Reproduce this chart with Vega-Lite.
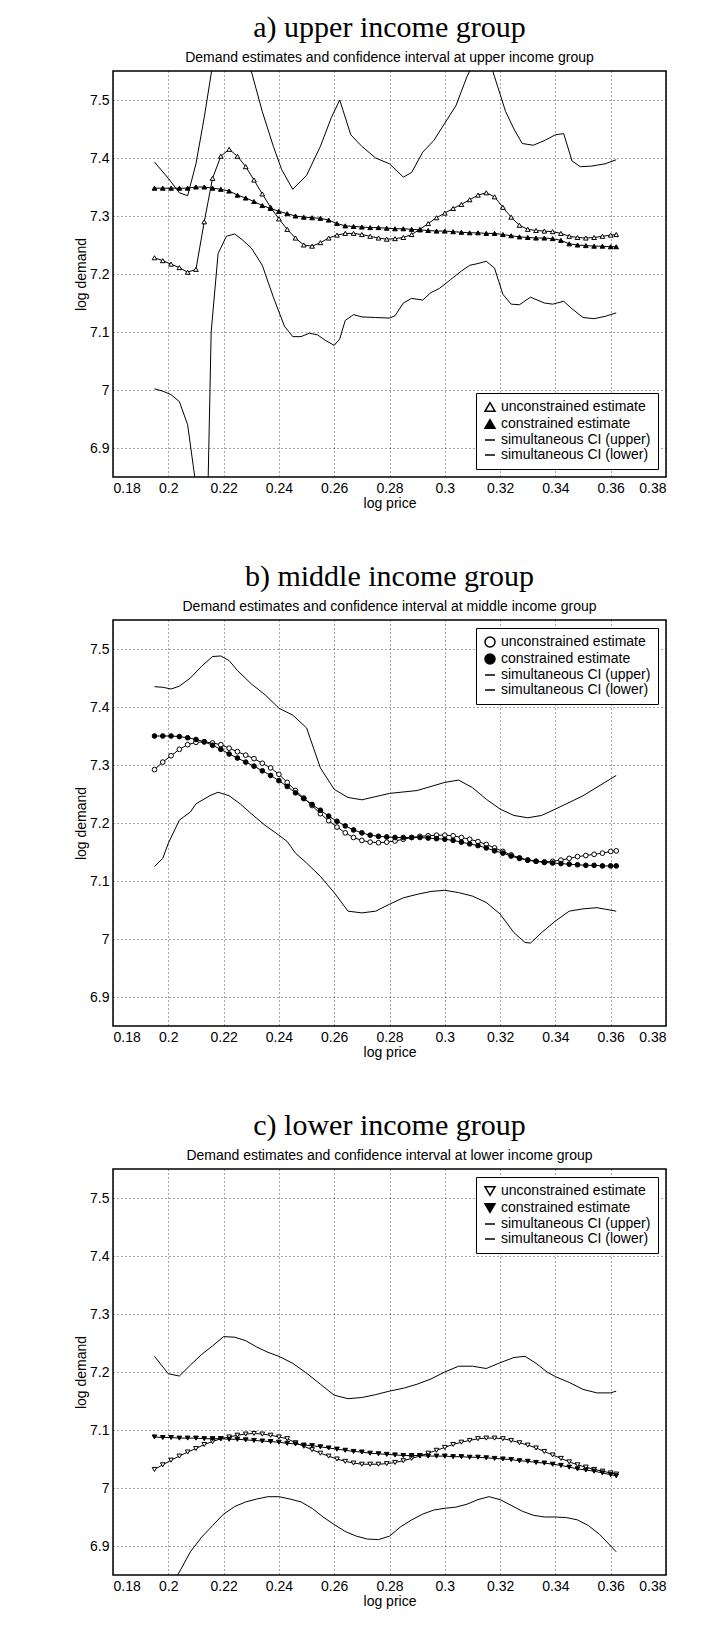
{
  "$schema": "https://vega.github.io/schema/vega-lite/v6.json",
  "background": "white",
  "padding": {"left": 73, "top": 12, "right": 10, "bottom": 0},
  "spacing": 50,
  "config": {
    "view": {"stroke": "black", "strokeWidth": 1.5},
    "title": {"font": "Liberation Serif", "fontSize": 30, "fontWeight": "normal", "color": "black", "subtitleFont": "Liberation Sans", "subtitleFontSize": 14, "subtitleColor": "black", "subtitlePadding": 8, "offset": 6},
    "axis": {"labelFont": "Liberation Sans", "labelFontSize": 14, "labelColor": "black", "titleFont": "Liberation Sans", "titleFontSize": 14, "titleFontWeight": "normal", "titleColor": "black", "grid": true, "gridDash": [1, 3], "gridColor": "black", "gridOpacity": 0.7, "domain": false, "ticks": false, "labelPadding": 4, "titlePadding": 1}
  },
  "resolve": {"scale": {"shape": "independent", "fill": "independent"}, "legend": {"shape": "independent", "fill": "independent"}},
  "datasets": {
    "a": [
      {"s":"U","x":0.195,"y":7.228},{"s":"U","x":0.198,"y":7.223},{"s":"U","x":0.201,"y":7.217},{"s":"U","x":0.204,"y":7.211},{"s":"U","x":0.207,"y":7.203},{"s":"U","x":0.210,"y":7.208},{"s":"U","x":0.213,"y":7.29},{"s":"U","x":0.216,"y":7.365},{"s":"U","x":0.219,"y":7.403},{"s":"U","x":0.222,"y":7.415},{"s":"U","x":0.225,"y":7.403},{"s":"U","x":0.228,"y":7.385},{"s":"U","x":0.231,"y":7.362},{"s":"U","x":0.234,"y":7.338},{"s":"U","x":0.237,"y":7.315},{"s":"U","x":0.240,"y":7.295},{"s":"U","x":0.243,"y":7.277},{"s":"U","x":0.246,"y":7.262},{"s":"U","x":0.249,"y":7.25},{"s":"U","x":0.252,"y":7.248},{"s":"U","x":0.255,"y":7.254},{"s":"U","x":0.258,"y":7.262},{"s":"U","x":0.261,"y":7.267},{"s":"U","x":0.264,"y":7.27},{"s":"U","x":0.267,"y":7.27},{"s":"U","x":0.270,"y":7.268},{"s":"U","x":0.273,"y":7.265},{"s":"U","x":0.276,"y":7.262},{"s":"U","x":0.279,"y":7.26},{"s":"U","x":0.282,"y":7.261},{"s":"U","x":0.285,"y":7.263},{"s":"U","x":0.288,"y":7.268},{"s":"U","x":0.291,"y":7.277},{"s":"U","x":0.294,"y":7.287},{"s":"U","x":0.297,"y":7.297},{"s":"U","x":0.300,"y":7.305},{"s":"U","x":0.303,"y":7.313},{"s":"U","x":0.306,"y":7.32},{"s":"U","x":0.309,"y":7.328},{"s":"U","x":0.312,"y":7.336},{"s":"U","x":0.315,"y":7.34},{"s":"U","x":0.318,"y":7.333},{"s":"U","x":0.321,"y":7.315},{"s":"U","x":0.324,"y":7.298},{"s":"U","x":0.327,"y":7.284},{"s":"U","x":0.330,"y":7.277},{"s":"U","x":0.333,"y":7.275},{"s":"U","x":0.336,"y":7.274},{"s":"U","x":0.339,"y":7.273},{"s":"U","x":0.342,"y":7.27},{"s":"U","x":0.345,"y":7.265},{"s":"U","x":0.348,"y":7.263},{"s":"U","x":0.351,"y":7.262},{"s":"U","x":0.354,"y":7.263},{"s":"U","x":0.357,"y":7.265},{"s":"U","x":0.360,"y":7.267},{"s":"U","x":0.362,"y":7.268},
      {"s":"C","x":0.195,"y":7.348},{"s":"C","x":0.198,"y":7.348},{"s":"C","x":0.201,"y":7.348},{"s":"C","x":0.204,"y":7.348},{"s":"C","x":0.207,"y":7.348},{"s":"C","x":0.210,"y":7.35},{"s":"C","x":0.213,"y":7.35},{"s":"C","x":0.216,"y":7.348},{"s":"C","x":0.219,"y":7.346},{"s":"C","x":0.222,"y":7.343},{"s":"C","x":0.225,"y":7.336},{"s":"C","x":0.228,"y":7.331},{"s":"C","x":0.231,"y":7.325},{"s":"C","x":0.234,"y":7.318},{"s":"C","x":0.237,"y":7.313},{"s":"C","x":0.240,"y":7.308},{"s":"C","x":0.243,"y":7.304},{"s":"C","x":0.246,"y":7.3},{"s":"C","x":0.249,"y":7.298},{"s":"C","x":0.252,"y":7.297},{"s":"C","x":0.255,"y":7.296},{"s":"C","x":0.258,"y":7.293},{"s":"C","x":0.261,"y":7.287},{"s":"C","x":0.264,"y":7.283},{"s":"C","x":0.267,"y":7.282},{"s":"C","x":0.270,"y":7.281},{"s":"C","x":0.273,"y":7.28},{"s":"C","x":0.276,"y":7.28},{"s":"C","x":0.279,"y":7.279},{"s":"C","x":0.282,"y":7.278},{"s":"C","x":0.285,"y":7.278},{"s":"C","x":0.288,"y":7.277},{"s":"C","x":0.291,"y":7.276},{"s":"C","x":0.294,"y":7.275},{"s":"C","x":0.297,"y":7.274},{"s":"C","x":0.300,"y":7.274},{"s":"C","x":0.303,"y":7.273},{"s":"C","x":0.306,"y":7.272},{"s":"C","x":0.309,"y":7.271},{"s":"C","x":0.312,"y":7.271},{"s":"C","x":0.315,"y":7.27},{"s":"C","x":0.318,"y":7.27},{"s":"C","x":0.321,"y":7.268},{"s":"C","x":0.324,"y":7.266},{"s":"C","x":0.327,"y":7.264},{"s":"C","x":0.330,"y":7.263},{"s":"C","x":0.333,"y":7.262},{"s":"C","x":0.336,"y":7.262},{"s":"C","x":0.339,"y":7.261},{"s":"C","x":0.342,"y":7.258},{"s":"C","x":0.345,"y":7.252},{"s":"C","x":0.348,"y":7.25},{"s":"C","x":0.351,"y":7.249},{"s":"C","x":0.354,"y":7.248},{"s":"C","x":0.357,"y":7.248},{"s":"C","x":0.360,"y":7.247},{"s":"C","x":0.362,"y":7.247},
      {"s":"H","x":0.195,"y":7.393},{"s":"H","x":0.2,"y":7.365},{"s":"H","x":0.204,"y":7.34},{"s":"H","x":0.207,"y":7.335},{"s":"H","x":0.210,"y":7.39},{"s":"H","x":0.213,"y":7.47},{"s":"H","x":0.216,"y":7.56},{"s":"H","x":0.219,"y":7.65},{"s":"H","x":0.222,"y":7.7},{"s":"H","x":0.226,"y":7.62},{"s":"H","x":0.230,"y":7.55},{"s":"H","x":0.234,"y":7.48},{"s":"H","x":0.238,"y":7.42},{"s":"H","x":0.241,"y":7.38},{"s":"H","x":0.245,"y":7.346},{"s":"H","x":0.250,"y":7.37},{"s":"H","x":0.255,"y":7.42},{"s":"H","x":0.259,"y":7.47},{"s":"H","x":0.262,"y":7.5},{"s":"H","x":0.266,"y":7.44},{"s":"H","x":0.270,"y":7.42},{"s":"H","x":0.275,"y":7.4},{"s":"H","x":0.280,"y":7.39},{"s":"H","x":0.285,"y":7.367},{"s":"H","x":0.288,"y":7.375},{"s":"H","x":0.292,"y":7.41},{"s":"H","x":0.296,"y":7.43},{"s":"H","x":0.300,"y":7.46},{"s":"H","x":0.304,"y":7.49},{"s":"H","x":0.308,"y":7.54},{"s":"H","x":0.312,"y":7.58},{"s":"H","x":0.316,"y":7.57},{"s":"H","x":0.318,"y":7.54},{"s":"H","x":0.322,"y":7.48},{"s":"H","x":0.325,"y":7.45},{"s":"H","x":0.328,"y":7.425},{"s":"H","x":0.332,"y":7.422},{"s":"H","x":0.336,"y":7.43},{"s":"H","x":0.340,"y":7.44},{"s":"H","x":0.343,"y":7.442},{"s":"H","x":0.346,"y":7.395},{"s":"H","x":0.349,"y":7.385},{"s":"H","x":0.353,"y":7.386},{"s":"H","x":0.358,"y":7.39},{"s":"H","x":0.362,"y":7.397},
      {"s":"L","x":0.195,"y":7.002},{"s":"L","x":0.198,"y":6.998},{"s":"L","x":0.201,"y":6.992},{"s":"L","x":0.204,"y":6.98},{"s":"L","x":0.207,"y":6.94},{"s":"L","x":0.209,"y":6.87},{"s":"L","x":0.211,"y":6.8},{"s":"L","x":0.214,"y":6.75},{"s":"L","x":0.2155,"y":7.1},{"s":"L","x":0.218,"y":7.235},{"s":"L","x":0.221,"y":7.265},{"s":"L","x":0.224,"y":7.269},{"s":"L","x":0.227,"y":7.258},{"s":"L","x":0.230,"y":7.245},{"s":"L","x":0.234,"y":7.215},{"s":"L","x":0.238,"y":7.16},{"s":"L","x":0.242,"y":7.11},{"s":"L","x":0.245,"y":7.092},{"s":"L","x":0.248,"y":7.092},{"s":"L","x":0.251,"y":7.098},{"s":"L","x":0.254,"y":7.095},{"s":"L","x":0.257,"y":7.085},{"s":"L","x":0.260,"y":7.077},{"s":"L","x":0.262,"y":7.088},{"s":"L","x":0.264,"y":7.12},{"s":"L","x":0.267,"y":7.13},{"s":"L","x":0.270,"y":7.126},{"s":"L","x":0.275,"y":7.125},{"s":"L","x":0.280,"y":7.124},{"s":"L","x":0.282,"y":7.128},{"s":"L","x":0.285,"y":7.15},{"s":"L","x":0.288,"y":7.158},{"s":"L","x":0.292,"y":7.155},{"s":"L","x":0.295,"y":7.168},{"s":"L","x":0.298,"y":7.175},{"s":"L","x":0.302,"y":7.19},{"s":"L","x":0.306,"y":7.205},{"s":"L","x":0.309,"y":7.215},{"s":"L","x":0.312,"y":7.218},{"s":"L","x":0.315,"y":7.222},{"s":"L","x":0.318,"y":7.21},{"s":"L","x":0.321,"y":7.165},{"s":"L","x":0.324,"y":7.148},{"s":"L","x":0.327,"y":7.147},{"s":"L","x":0.331,"y":7.16},{"s":"L","x":0.336,"y":7.15},{"s":"L","x":0.339,"y":7.148},{"s":"L","x":0.343,"y":7.153},{"s":"L","x":0.346,"y":7.14},{"s":"L","x":0.350,"y":7.125},{"s":"L","x":0.354,"y":7.123},{"s":"L","x":0.358,"y":7.127},{"s":"L","x":0.362,"y":7.133}
    ],
    "b": [
      {"s":"U","x":0.195,"y":7.292},{"s":"U","x":0.198,"y":7.305},{"s":"U","x":0.201,"y":7.316},{"s":"U","x":0.204,"y":7.327},{"s":"U","x":0.207,"y":7.335},{"s":"U","x":0.210,"y":7.339},{"s":"U","x":0.213,"y":7.34},{"s":"U","x":0.216,"y":7.338},{"s":"U","x":0.219,"y":7.335},{"s":"U","x":0.222,"y":7.329},{"s":"U","x":0.225,"y":7.323},{"s":"U","x":0.228,"y":7.317},{"s":"U","x":0.231,"y":7.311},{"s":"U","x":0.234,"y":7.303},{"s":"U","x":0.237,"y":7.295},{"s":"U","x":0.240,"y":7.284},{"s":"U","x":0.243,"y":7.27},{"s":"U","x":0.246,"y":7.256},{"s":"U","x":0.249,"y":7.243},{"s":"U","x":0.252,"y":7.23},{"s":"U","x":0.255,"y":7.216},{"s":"U","x":0.258,"y":7.204},{"s":"U","x":0.261,"y":7.193},{"s":"U","x":0.264,"y":7.183},{"s":"U","x":0.267,"y":7.175},{"s":"U","x":0.270,"y":7.17},{"s":"U","x":0.273,"y":7.167},{"s":"U","x":0.276,"y":7.166},{"s":"U","x":0.279,"y":7.167},{"s":"U","x":0.282,"y":7.169},{"s":"U","x":0.285,"y":7.172},{"s":"U","x":0.288,"y":7.175},{"s":"U","x":0.291,"y":7.177},{"s":"U","x":0.294,"y":7.178},{"s":"U","x":0.297,"y":7.179},{"s":"U","x":0.300,"y":7.179},{"s":"U","x":0.303,"y":7.178},{"s":"U","x":0.306,"y":7.175},{"s":"U","x":0.309,"y":7.172},{"s":"U","x":0.312,"y":7.168},{"s":"U","x":0.315,"y":7.163},{"s":"U","x":0.318,"y":7.157},{"s":"U","x":0.321,"y":7.151},{"s":"U","x":0.324,"y":7.145},{"s":"U","x":0.327,"y":7.14},{"s":"U","x":0.330,"y":7.136},{"s":"U","x":0.333,"y":7.134},{"s":"U","x":0.336,"y":7.133},{"s":"U","x":0.339,"y":7.134},{"s":"U","x":0.342,"y":7.136},{"s":"U","x":0.345,"y":7.139},{"s":"U","x":0.348,"y":7.142},{"s":"U","x":0.351,"y":7.144},{"s":"U","x":0.354,"y":7.146},{"s":"U","x":0.357,"y":7.148},{"s":"U","x":0.360,"y":7.151},{"s":"U","x":0.362,"y":7.152},
      {"s":"C","x":0.195,"y":7.35},{"s":"C","x":0.198,"y":7.35},{"s":"C","x":0.201,"y":7.35},{"s":"C","x":0.204,"y":7.349},{"s":"C","x":0.207,"y":7.347},{"s":"C","x":0.210,"y":7.344},{"s":"C","x":0.213,"y":7.34},{"s":"C","x":0.216,"y":7.334},{"s":"C","x":0.219,"y":7.327},{"s":"C","x":0.222,"y":7.319},{"s":"C","x":0.225,"y":7.312},{"s":"C","x":0.228,"y":7.305},{"s":"C","x":0.231,"y":7.298},{"s":"C","x":0.234,"y":7.29},{"s":"C","x":0.237,"y":7.282},{"s":"C","x":0.240,"y":7.273},{"s":"C","x":0.243,"y":7.263},{"s":"C","x":0.246,"y":7.252},{"s":"C","x":0.249,"y":7.242},{"s":"C","x":0.252,"y":7.232},{"s":"C","x":0.255,"y":7.222},{"s":"C","x":0.258,"y":7.212},{"s":"C","x":0.261,"y":7.203},{"s":"C","x":0.264,"y":7.195},{"s":"C","x":0.267,"y":7.188},{"s":"C","x":0.270,"y":7.183},{"s":"C","x":0.273,"y":7.179},{"s":"C","x":0.276,"y":7.177},{"s":"C","x":0.279,"y":7.176},{"s":"C","x":0.282,"y":7.175},{"s":"C","x":0.285,"y":7.175},{"s":"C","x":0.288,"y":7.175},{"s":"C","x":0.291,"y":7.175},{"s":"C","x":0.294,"y":7.174},{"s":"C","x":0.297,"y":7.173},{"s":"C","x":0.300,"y":7.172},{"s":"C","x":0.303,"y":7.17},{"s":"C","x":0.306,"y":7.167},{"s":"C","x":0.309,"y":7.164},{"s":"C","x":0.312,"y":7.161},{"s":"C","x":0.315,"y":7.157},{"s":"C","x":0.318,"y":7.152},{"s":"C","x":0.321,"y":7.148},{"s":"C","x":0.324,"y":7.143},{"s":"C","x":0.327,"y":7.139},{"s":"C","x":0.330,"y":7.136},{"s":"C","x":0.333,"y":7.134},{"s":"C","x":0.336,"y":7.132},{"s":"C","x":0.339,"y":7.131},{"s":"C","x":0.342,"y":7.13},{"s":"C","x":0.345,"y":7.129},{"s":"C","x":0.348,"y":7.128},{"s":"C","x":0.351,"y":7.127},{"s":"C","x":0.354,"y":7.127},{"s":"C","x":0.357,"y":7.126},{"s":"C","x":0.360,"y":7.126},{"s":"C","x":0.362,"y":7.126},
      {"s":"H","x":0.195,"y":7.435},{"s":"H","x":0.198,"y":7.434},{"s":"H","x":0.201,"y":7.431},{"s":"H","x":0.204,"y":7.436},{"s":"H","x":0.208,"y":7.45},{"s":"H","x":0.212,"y":7.47},{"s":"H","x":0.216,"y":7.487},{"s":"H","x":0.219,"y":7.488},{"s":"H","x":0.222,"y":7.48},{"s":"H","x":0.225,"y":7.463},{"s":"H","x":0.230,"y":7.44},{"s":"H","x":0.235,"y":7.421},{"s":"H","x":0.240,"y":7.398},{"s":"H","x":0.245,"y":7.386},{"s":"H","x":0.250,"y":7.364},{"s":"H","x":0.255,"y":7.295},{"s":"H","x":0.260,"y":7.258},{"s":"H","x":0.265,"y":7.244},{"s":"H","x":0.270,"y":7.24},{"s":"H","x":0.280,"y":7.251},{"s":"H","x":0.290,"y":7.256},{"s":"H","x":0.300,"y":7.27},{"s":"H","x":0.305,"y":7.274},{"s":"H","x":0.310,"y":7.261},{"s":"H","x":0.315,"y":7.241},{"s":"H","x":0.320,"y":7.224},{"s":"H","x":0.325,"y":7.213},{"s":"H","x":0.330,"y":7.209},{"s":"H","x":0.335,"y":7.213},{"s":"H","x":0.340,"y":7.224},{"s":"H","x":0.350,"y":7.247},{"s":"H","x":0.362,"y":7.282},
      {"s":"L","x":0.195,"y":7.125},{"s":"L","x":0.198,"y":7.139},{"s":"L","x":0.200,"y":7.165},{"s":"L","x":0.204,"y":7.205},{"s":"L","x":0.208,"y":7.219},{"s":"L","x":0.210,"y":7.233},{"s":"L","x":0.215,"y":7.247},{"s":"L","x":0.218,"y":7.253},{"s":"L","x":0.222,"y":7.247},{"s":"L","x":0.226,"y":7.233},{"s":"L","x":0.230,"y":7.216},{"s":"L","x":0.235,"y":7.196},{"s":"L","x":0.240,"y":7.179},{"s":"L","x":0.243,"y":7.168},{"s":"L","x":0.246,"y":7.148},{"s":"L","x":0.250,"y":7.131},{"s":"L","x":0.255,"y":7.108},{"s":"L","x":0.260,"y":7.08},{"s":"L","x":0.265,"y":7.048},{"s":"L","x":0.270,"y":7.045},{"s":"L","x":0.275,"y":7.048},{"s":"L","x":0.280,"y":7.06},{"s":"L","x":0.285,"y":7.071},{"s":"L","x":0.290,"y":7.077},{"s":"L","x":0.295,"y":7.082},{"s":"L","x":0.300,"y":7.084},{"s":"L","x":0.305,"y":7.08},{"s":"L","x":0.310,"y":7.074},{"s":"L","x":0.315,"y":7.063},{"s":"L","x":0.320,"y":7.043},{"s":"L","x":0.325,"y":7.011},{"s":"L","x":0.329,"y":6.994},{"s":"L","x":0.331,"y":6.993},{"s":"L","x":0.335,"y":7.011},{"s":"L","x":0.340,"y":7.031},{"s":"L","x":0.345,"y":7.048},{"s":"L","x":0.350,"y":7.052},{"s":"L","x":0.355,"y":7.054},{"s":"L","x":0.362,"y":7.048}
    ],
    "c": [
      {"s":"U","x":0.195,"y":7.032},{"s":"U","x":0.198,"y":7.04},{"s":"U","x":0.201,"y":7.048},{"s":"U","x":0.204,"y":7.055},{"s":"U","x":0.207,"y":7.062},{"s":"U","x":0.210,"y":7.068},{"s":"U","x":0.213,"y":7.075},{"s":"U","x":0.216,"y":7.08},{"s":"U","x":0.219,"y":7.085},{"s":"U","x":0.222,"y":7.088},{"s":"U","x":0.225,"y":7.091},{"s":"U","x":0.228,"y":7.093},{"s":"U","x":0.231,"y":7.094},{"s":"U","x":0.234,"y":7.093},{"s":"U","x":0.237,"y":7.091},{"s":"U","x":0.240,"y":7.088},{"s":"U","x":0.243,"y":7.085},{"s":"U","x":0.246,"y":7.078},{"s":"U","x":0.249,"y":7.072},{"s":"U","x":0.252,"y":7.066},{"s":"U","x":0.255,"y":7.06},{"s":"U","x":0.258,"y":7.055},{"s":"U","x":0.261,"y":7.05},{"s":"U","x":0.264,"y":7.046},{"s":"U","x":0.267,"y":7.043},{"s":"U","x":0.270,"y":7.041},{"s":"U","x":0.273,"y":7.041},{"s":"U","x":0.276,"y":7.041},{"s":"U","x":0.279,"y":7.042},{"s":"U","x":0.282,"y":7.044},{"s":"U","x":0.285,"y":7.047},{"s":"U","x":0.288,"y":7.051},{"s":"U","x":0.291,"y":7.055},{"s":"U","x":0.294,"y":7.06},{"s":"U","x":0.297,"y":7.065},{"s":"U","x":0.300,"y":7.07},{"s":"U","x":0.303,"y":7.075},{"s":"U","x":0.306,"y":7.079},{"s":"U","x":0.309,"y":7.082},{"s":"U","x":0.312,"y":7.085},{"s":"U","x":0.315,"y":7.086},{"s":"U","x":0.318,"y":7.086},{"s":"U","x":0.321,"y":7.085},{"s":"U","x":0.324,"y":7.082},{"s":"U","x":0.327,"y":7.078},{"s":"U","x":0.330,"y":7.074},{"s":"U","x":0.333,"y":7.069},{"s":"U","x":0.336,"y":7.063},{"s":"U","x":0.339,"y":7.057},{"s":"U","x":0.342,"y":7.051},{"s":"U","x":0.345,"y":7.045},{"s":"U","x":0.348,"y":7.04},{"s":"U","x":0.351,"y":7.036},{"s":"U","x":0.354,"y":7.032},{"s":"U","x":0.357,"y":7.029},{"s":"U","x":0.360,"y":7.026},{"s":"U","x":0.362,"y":7.024},
      {"s":"C","x":0.195,"y":7.088},{"s":"C","x":0.198,"y":7.087},{"s":"C","x":0.201,"y":7.087},{"s":"C","x":0.204,"y":7.086},{"s":"C","x":0.207,"y":7.086},{"s":"C","x":0.210,"y":7.086},{"s":"C","x":0.213,"y":7.085},{"s":"C","x":0.216,"y":7.085},{"s":"C","x":0.219,"y":7.085},{"s":"C","x":0.222,"y":7.084},{"s":"C","x":0.225,"y":7.084},{"s":"C","x":0.228,"y":7.083},{"s":"C","x":0.231,"y":7.082},{"s":"C","x":0.234,"y":7.081},{"s":"C","x":0.237,"y":7.08},{"s":"C","x":0.240,"y":7.079},{"s":"C","x":0.243,"y":7.077},{"s":"C","x":0.246,"y":7.076},{"s":"C","x":0.249,"y":7.074},{"s":"C","x":0.252,"y":7.073},{"s":"C","x":0.255,"y":7.071},{"s":"C","x":0.258,"y":7.069},{"s":"C","x":0.261,"y":7.067},{"s":"C","x":0.264,"y":7.065},{"s":"C","x":0.267,"y":7.063},{"s":"C","x":0.270,"y":7.062},{"s":"C","x":0.273,"y":7.06},{"s":"C","x":0.276,"y":7.059},{"s":"C","x":0.279,"y":7.058},{"s":"C","x":0.282,"y":7.057},{"s":"C","x":0.285,"y":7.056},{"s":"C","x":0.288,"y":7.056},{"s":"C","x":0.291,"y":7.056},{"s":"C","x":0.294,"y":7.055},{"s":"C","x":0.297,"y":7.055},{"s":"C","x":0.300,"y":7.055},{"s":"C","x":0.303,"y":7.054},{"s":"C","x":0.306,"y":7.054},{"s":"C","x":0.309,"y":7.053},{"s":"C","x":0.312,"y":7.053},{"s":"C","x":0.315,"y":7.052},{"s":"C","x":0.318,"y":7.051},{"s":"C","x":0.321,"y":7.05},{"s":"C","x":0.324,"y":7.049},{"s":"C","x":0.327,"y":7.047},{"s":"C","x":0.330,"y":7.046},{"s":"C","x":0.333,"y":7.044},{"s":"C","x":0.336,"y":7.043},{"s":"C","x":0.339,"y":7.041},{"s":"C","x":0.342,"y":7.039},{"s":"C","x":0.345,"y":7.036},{"s":"C","x":0.348,"y":7.033},{"s":"C","x":0.351,"y":7.031},{"s":"C","x":0.354,"y":7.029},{"s":"C","x":0.357,"y":7.026},{"s":"C","x":0.360,"y":7.023},{"s":"C","x":0.362,"y":7.021},
      {"s":"H","x":0.195,"y":7.227},{"s":"H","x":0.200,"y":7.197},{"s":"H","x":0.204,"y":7.193},{"s":"H","x":0.208,"y":7.212},{"s":"H","x":0.212,"y":7.23},{"s":"H","x":0.216,"y":7.245},{"s":"H","x":0.220,"y":7.261},{"s":"H","x":0.224,"y":7.26},{"s":"H","x":0.228,"y":7.254},{"s":"H","x":0.232,"y":7.243},{"s":"H","x":0.236,"y":7.234},{"s":"H","x":0.240,"y":7.227},{"s":"H","x":0.245,"y":7.215},{"s":"H","x":0.250,"y":7.198},{"s":"H","x":0.255,"y":7.179},{"s":"H","x":0.260,"y":7.16},{"s":"H","x":0.265,"y":7.154},{"s":"H","x":0.270,"y":7.156},{"s":"H","x":0.275,"y":7.161},{"s":"H","x":0.280,"y":7.167},{"s":"H","x":0.285,"y":7.172},{"s":"H","x":0.290,"y":7.179},{"s":"H","x":0.295,"y":7.188},{"s":"H","x":0.300,"y":7.2},{"s":"H","x":0.305,"y":7.21},{"s":"H","x":0.310,"y":7.21},{"s":"H","x":0.315,"y":7.206},{"s":"H","x":0.320,"y":7.216},{"s":"H","x":0.325,"y":7.225},{"s":"H","x":0.329,"y":7.227},{"s":"H","x":0.333,"y":7.215},{"s":"H","x":0.337,"y":7.2},{"s":"H","x":0.340,"y":7.192},{"s":"H","x":0.345,"y":7.182},{"s":"H","x":0.350,"y":7.17},{"s":"H","x":0.355,"y":7.164},{"s":"H","x":0.360,"y":7.164},{"s":"H","x":0.362,"y":7.167},
      {"s":"L","x":0.195,"y":6.8},{"s":"L","x":0.200,"y":6.83},{"s":"L","x":0.204,"y":6.855},{"s":"L","x":0.208,"y":6.89},{"s":"L","x":0.212,"y":6.915},{"s":"L","x":0.216,"y":6.935},{"s":"L","x":0.220,"y":6.955},{"s":"L","x":0.224,"y":6.968},{"s":"L","x":0.228,"y":6.976},{"s":"L","x":0.232,"y":6.981},{"s":"L","x":0.236,"y":6.985},{"s":"L","x":0.240,"y":6.985},{"s":"L","x":0.244,"y":6.981},{"s":"L","x":0.248,"y":6.976},{"s":"L","x":0.252,"y":6.965},{"s":"L","x":0.256,"y":6.95},{"s":"L","x":0.260,"y":6.937},{"s":"L","x":0.264,"y":6.925},{"s":"L","x":0.268,"y":6.917},{"s":"L","x":0.272,"y":6.912},{"s":"L","x":0.276,"y":6.911},{"s":"L","x":0.280,"y":6.917},{"s":"L","x":0.284,"y":6.933},{"s":"L","x":0.288,"y":6.945},{"s":"L","x":0.292,"y":6.955},{"s":"L","x":0.296,"y":6.962},{"s":"L","x":0.300,"y":6.965},{"s":"L","x":0.304,"y":6.967},{"s":"L","x":0.308,"y":6.972},{"s":"L","x":0.312,"y":6.98},{"s":"L","x":0.316,"y":6.985},{"s":"L","x":0.320,"y":6.98},{"s":"L","x":0.324,"y":6.97},{"s":"L","x":0.328,"y":6.96},{"s":"L","x":0.332,"y":6.953},{"s":"L","x":0.336,"y":6.95},{"s":"L","x":0.340,"y":6.95},{"s":"L","x":0.344,"y":6.949},{"s":"L","x":0.348,"y":6.945},{"s":"L","x":0.352,"y":6.935},{"s":"L","x":0.356,"y":6.92},{"s":"L","x":0.360,"y":6.9},{"s":"L","x":0.362,"y":6.89}
    ]
  },
  "vconcat": [
    {
      "title": {"text": "a) upper income group", "subtitle": "Demand estimates and confidence interval at upper income group"},
      "width": 553, "height": 406,
      "data": {"name": "a"},
      "encoding": {
        "x": {"field": "x", "type": "quantitative", "scale": {"domain": [0.18, 0.38], "nice": false, "zero": false}, "axis": {"values": [0.18,0.2,0.22,0.24,0.26,0.28,0.3,0.32,0.34,0.36,0.38], "format": "~g", "title": "log price"}},
        "y": {"field": "y", "type": "quantitative", "scale": {"domain": [6.85, 7.55], "nice": false, "zero": false}, "axis": {"values": [6.9,7,7.1,7.2,7.3,7.4,7.5], "format": "~g", "title": "log demand"}}
      },
      "layer": [
        {"mark": {"type": "line", "color": "black", "strokeWidth": 1, "clip": true}, "encoding": {"detail": {"field": "s"}}},
        {"transform": [{"filter": "datum.s == 'U' || datum.s == 'C'"}],
         "mark": {"type": "point", "size": 22, "stroke": "black", "strokeWidth": 1, "opacity": 1, "clip": true},
         "encoding": {
           "shape": {"field": "s", "type": "nominal", "scale": {"domain": ["U","C","H","L"], "range": ["triangle-up","triangle-up","stroke","stroke"]},
             "legend": {"orient": "bottom-right", "title": null, "strokeColor": "black", "fillColor": "white", "padding": 7, "offset": 8, "labelFont": "Liberation Sans", "labelFontSize": 14, "labelColor": "black", "symbolSize": 100, "rowPadding": 1, "encode": {"symbols": {"update": {"stroke": {"value": "black"}, "strokeWidth": {"value": 1}, "opacity": {"value": 1}}}}, "labelExpr": "datum.value == 'U' ? 'unconstrained estimate' : datum.value == 'C' ? 'constrained estimate' : datum.value == 'H' ? 'simultaneous CI (upper)' : 'simultaneous CI (lower)'"}},
           "fill": {"field": "s", "type": "nominal", "scale": {"domain": ["U","C","H","L"], "range": ["white","black","black","black"]},
             "legend": {"orient": "bottom-right", "title": null, "strokeColor": "black", "fillColor": "white", "padding": 7, "offset": 8, "labelFont": "Liberation Sans", "labelFontSize": 14, "labelColor": "black", "symbolSize": 100, "rowPadding": 1, "encode": {"symbols": {"update": {"stroke": {"value": "black"}, "strokeWidth": {"value": 1}, "opacity": {"value": 1}}}}, "labelExpr": "datum.value == 'U' ? 'unconstrained estimate' : datum.value == 'C' ? 'constrained estimate' : datum.value == 'H' ? 'simultaneous CI (upper)' : 'simultaneous CI (lower)'"}}
         }}
      ]
    },
    {
      "title": {"text": "b) middle income group", "subtitle": "Demand estimates and confidence interval at middle income group"},
      "width": 553, "height": 406,
      "data": {"name": "b"},
      "encoding": {
        "x": {"field": "x", "type": "quantitative", "scale": {"domain": [0.18, 0.38], "nice": false, "zero": false}, "axis": {"values": [0.18,0.2,0.22,0.24,0.26,0.28,0.3,0.32,0.34,0.36,0.38], "format": "~g", "title": "log price"}},
        "y": {"field": "y", "type": "quantitative", "scale": {"domain": [6.85, 7.55], "nice": false, "zero": false}, "axis": {"values": [6.9,7,7.1,7.2,7.3,7.4,7.5], "format": "~g", "title": "log demand"}}
      },
      "layer": [
        {"mark": {"type": "line", "color": "black", "strokeWidth": 1, "clip": true}, "encoding": {"detail": {"field": "s"}}},
        {"transform": [{"filter": "datum.s == 'U' || datum.s == 'C'"}],
         "mark": {"type": "point", "size": 22, "stroke": "black", "strokeWidth": 1, "opacity": 1, "clip": true},
         "encoding": {
           "shape": {"field": "s", "type": "nominal", "scale": {"domain": ["U","C","H","L"], "range": ["circle","circle","stroke","stroke"]},
             "legend": {"orient": "top-right", "title": null, "strokeColor": "black", "fillColor": "white", "padding": 7, "offset": 8, "labelFont": "Liberation Sans", "labelFontSize": 14, "labelColor": "black", "symbolSize": 100, "rowPadding": 1, "encode": {"symbols": {"update": {"stroke": {"value": "black"}, "strokeWidth": {"value": 1}, "opacity": {"value": 1}}}}, "labelExpr": "datum.value == 'U' ? 'unconstrained estimate' : datum.value == 'C' ? 'constrained estimate' : datum.value == 'H' ? 'simultaneous CI (upper)' : 'simultaneous CI (lower)'"}},
           "fill": {"field": "s", "type": "nominal", "scale": {"domain": ["U","C","H","L"], "range": ["white","black","black","black"]},
             "legend": {"orient": "top-right", "title": null, "strokeColor": "black", "fillColor": "white", "padding": 7, "offset": 8, "labelFont": "Liberation Sans", "labelFontSize": 14, "labelColor": "black", "symbolSize": 100, "rowPadding": 1, "encode": {"symbols": {"update": {"stroke": {"value": "black"}, "strokeWidth": {"value": 1}, "opacity": {"value": 1}}}}, "labelExpr": "datum.value == 'U' ? 'unconstrained estimate' : datum.value == 'C' ? 'constrained estimate' : datum.value == 'H' ? 'simultaneous CI (upper)' : 'simultaneous CI (lower)'"}}
         }}
      ]
    },
    {
      "title": {"text": "c) lower income group", "subtitle": "Demand estimates and confidence interval at lower income group"},
      "width": 553, "height": 406,
      "data": {"name": "c"},
      "encoding": {
        "x": {"field": "x", "type": "quantitative", "scale": {"domain": [0.18, 0.38], "nice": false, "zero": false}, "axis": {"values": [0.18,0.2,0.22,0.24,0.26,0.28,0.3,0.32,0.34,0.36,0.38], "format": "~g", "title": "log price"}},
        "y": {"field": "y", "type": "quantitative", "scale": {"domain": [6.85, 7.55], "nice": false, "zero": false}, "axis": {"values": [6.9,7,7.1,7.2,7.3,7.4,7.5], "format": "~g", "title": "log demand"}}
      },
      "layer": [
        {"mark": {"type": "line", "color": "black", "strokeWidth": 1, "clip": true}, "encoding": {"detail": {"field": "s"}}},
        {"transform": [{"filter": "datum.s == 'U' || datum.s == 'C'"}],
         "mark": {"type": "point", "size": 22, "stroke": "black", "strokeWidth": 1, "opacity": 1, "clip": true},
         "encoding": {
           "shape": {"field": "s", "type": "nominal", "scale": {"domain": ["U","C","H","L"], "range": ["triangle-down","triangle-down","stroke","stroke"]},
             "legend": {"orient": "top-right", "title": null, "strokeColor": "black", "fillColor": "white", "padding": 7, "offset": 8, "labelFont": "Liberation Sans", "labelFontSize": 14, "labelColor": "black", "symbolSize": 100, "rowPadding": 1, "encode": {"symbols": {"update": {"stroke": {"value": "black"}, "strokeWidth": {"value": 1}, "opacity": {"value": 1}}}}, "labelExpr": "datum.value == 'U' ? 'unconstrained estimate' : datum.value == 'C' ? 'constrained estimate' : datum.value == 'H' ? 'simultaneous CI (upper)' : 'simultaneous CI (lower)'"}},
           "fill": {"field": "s", "type": "nominal", "scale": {"domain": ["U","C","H","L"], "range": ["white","black","black","black"]},
             "legend": {"orient": "top-right", "title": null, "strokeColor": "black", "fillColor": "white", "padding": 7, "offset": 8, "labelFont": "Liberation Sans", "labelFontSize": 14, "labelColor": "black", "symbolSize": 100, "rowPadding": 1, "encode": {"symbols": {"update": {"stroke": {"value": "black"}, "strokeWidth": {"value": 1}, "opacity": {"value": 1}}}}, "labelExpr": "datum.value == 'U' ? 'unconstrained estimate' : datum.value == 'C' ? 'constrained estimate' : datum.value == 'H' ? 'simultaneous CI (upper)' : 'simultaneous CI (lower)'"}}
         }}
      ]
    }
  ]
}
